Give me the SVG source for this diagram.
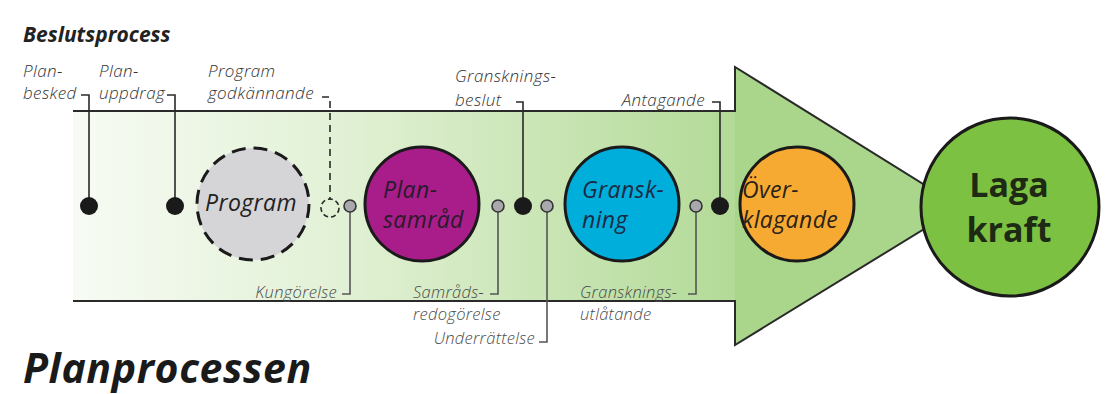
<svg xmlns="http://www.w3.org/2000/svg" width="1108" height="394" viewBox="0 0 1108 394">
<defs>
<linearGradient id="bodyGrad" x1="73" y1="0" x2="735" y2="0" gradientUnits="userSpaceOnUse">
<stop offset="0" stop-color="#f7fbf4"/>
<stop offset="0.4" stop-color="#e2f1d6"/>
<stop offset="1" stop-color="#b3da97"/>
</linearGradient>
<style>
.lbl{font-family:"Open Sans","Noto Sans","Liberation Sans",sans-serif;font-style:italic;font-weight:300;font-size:17px;letter-spacing:0.4px;fill:#333}
.lbl2{font-family:"Open Sans","Noto Sans","Liberation Sans",sans-serif;font-style:italic;font-weight:300;font-size:16.5px;letter-spacing:0.3px;fill:#4a4a4a}
.ctext{font-family:"Open Sans","Noto Sans","Liberation Sans",sans-serif;font-style:italic;font-size:23px;letter-spacing:0.4px}
.ln{fill:none;stroke:#2a2a2a;stroke-width:1.6}
.lng{fill:none;stroke:#555;stroke-width:1.6}
.bdot{fill:#1a1a1a}
.gdot{fill:#a9a9ad;stroke:#333;stroke-width:1.6}
.circ{stroke:#1a1a1a;stroke-width:3}
.big{font-family:"Open Sans","Noto Sans","Liberation Sans",sans-serif;font-weight:bold;font-size:34px;fill:#1e2a14}
</style>
</defs>
<rect width="1108" height="394" fill="#ffffff"/>
<g id="arrow">
<rect x="73" y="111" width="663" height="190" fill="url(#bodyGrad)"/>
<polygon points="735,67 960,207 735,345" fill="#a9d68b"/>
<polyline points="73,111 735,111 735,67 960,207 735,345 735,301 73,301" fill="none" stroke="#2a2a2a" stroke-width="2"/>
</g>
<text x="23" y="42" font-family="'Open Sans','Noto Sans','Liberation Sans',sans-serif" font-weight="bold" font-style="italic" font-size="21" fill="#222">Beslutsprocess</text>
<text x="23" y="383" font-family="'Open Sans','Noto Sans','Liberation Sans',sans-serif" font-weight="bold" font-style="italic" font-size="41" letter-spacing="0.6" fill="#1a1a1a">Planprocessen</text>
<g id="connectors">
<polyline class="ln" points="81,95 89,95 89,205"/>
<polyline class="ln" points="167,95 175,95 175,205"/>
<polyline class="ln" points="322,97 330,97 330,200" stroke-dasharray="7,5"/>
<polyline class="ln" points="516,102 523,102 523,206"/>
<polyline class="ln" points="712,102 720,102 720,206"/>
<polyline class="lng" points="342,294 350,294 350,206"/>
<polyline class="lng" points="490,294 498,294 498,206"/>
<polyline class="lng" points="539,342 547,342 547,206"/>
<polyline class="lng" points="688,294 696,294 696,206"/>
</g>
<g id="plan-besked">
<text class="lbl" x="23" y="77">Plan-</text>
<text class="lbl" x="23" y="99">besked</text>
<circle class="bdot" cx="89" cy="206" r="9"/>
</g>
<g id="plan-uppdrag">
<text class="lbl" x="99" y="77">Plan-</text>
<text class="lbl" x="99" y="99">uppdrag</text>
<circle class="bdot" cx="175" cy="206" r="9"/>
</g>
<g id="program">
<circle cx="253" cy="204" r="56" fill="#d5d5d8" stroke="#1a1a1a" stroke-width="3" stroke-dasharray="14,8"/>
<text class="ctext" x="251" y="211" text-anchor="middle" fill="#222" font-size="24">Program</text>
</g>
<g id="program-godkannande">
<text class="lbl" x="208" y="77">Program</text>
<text class="lbl" x="208" y="99">godkännande</text>
<circle cx="330" cy="208" r="9" fill="none" stroke="#2a2a2a" stroke-width="1.6" stroke-dasharray="5,3"/>
</g>
<g id="kungorelse">
<circle class="gdot" cx="350" cy="206" r="6"/>
<text class="lbl2" x="337" y="298" text-anchor="end">Kungörelse</text>
</g>
<g id="plansamrad">
<circle class="circ" cx="422" cy="204" r="57" fill="#a81d8a"/>
<text class="ctext" x="383" y="198" fill="#2a1a2a">Plan-</text>
<text class="ctext" x="383" y="228" fill="#2a1a2a">samråd</text>
</g>
<g id="samradsredogorelse">
<circle class="gdot" cx="498" cy="206" r="6"/>
<text class="lbl2" x="484" y="298" text-anchor="end">Samråds-</text>
<text class="lbl2" x="413" y="320">redogörelse</text>
</g>
<g id="granskningsbeslut">
<text class="lbl" x="455" y="82">Gransknings-</text>
<text class="lbl" x="455" y="106">beslut</text>
<circle class="bdot" cx="523" cy="206" r="9"/>
</g>
<g id="underrattelse">
<circle class="gdot" cx="547" cy="206" r="6"/>
<text class="lbl2" x="535" y="344" text-anchor="end">Underrättelse</text>
</g>
<g id="granskning">
<circle class="circ" cx="622" cy="204" r="57" fill="#00aedc"/>
<text class="ctext" x="582" y="198" fill="#1b2a44">Gransk-</text>
<text class="ctext" x="582" y="228" fill="#1b2a44">ning</text>
</g>
<g id="granskningsutlatande">
<circle class="gdot" cx="696" cy="206" r="6"/>
<text class="lbl2" x="580" y="298">Gransknings-</text>
<text class="lbl2" x="580" y="320">utlåtande</text>
</g>
<g id="antagande">
<text class="lbl" x="705" y="106" text-anchor="end">Antagande</text>
<circle class="bdot" cx="720" cy="206" r="9"/>
</g>
<g id="overklagande">
<circle class="circ" cx="797" cy="204" r="57" fill="#f7aa32"/>
<text class="ctext" x="742" y="198" fill="#2a2218" font-size="26">Över-</text>
<text class="ctext" x="742" y="228" fill="#2a2218" font-size="26" letter-spacing="0.8">klagande</text>
</g>
<g id="laga-kraft">
<circle class="circ" cx="1010" cy="207" r="89" fill="#7cc142"/>
<text class="big" x="1009" y="197" text-anchor="middle">Laga</text>
<text class="big" x="1009" y="242" text-anchor="middle">kraft</text>
</g>
</svg>
